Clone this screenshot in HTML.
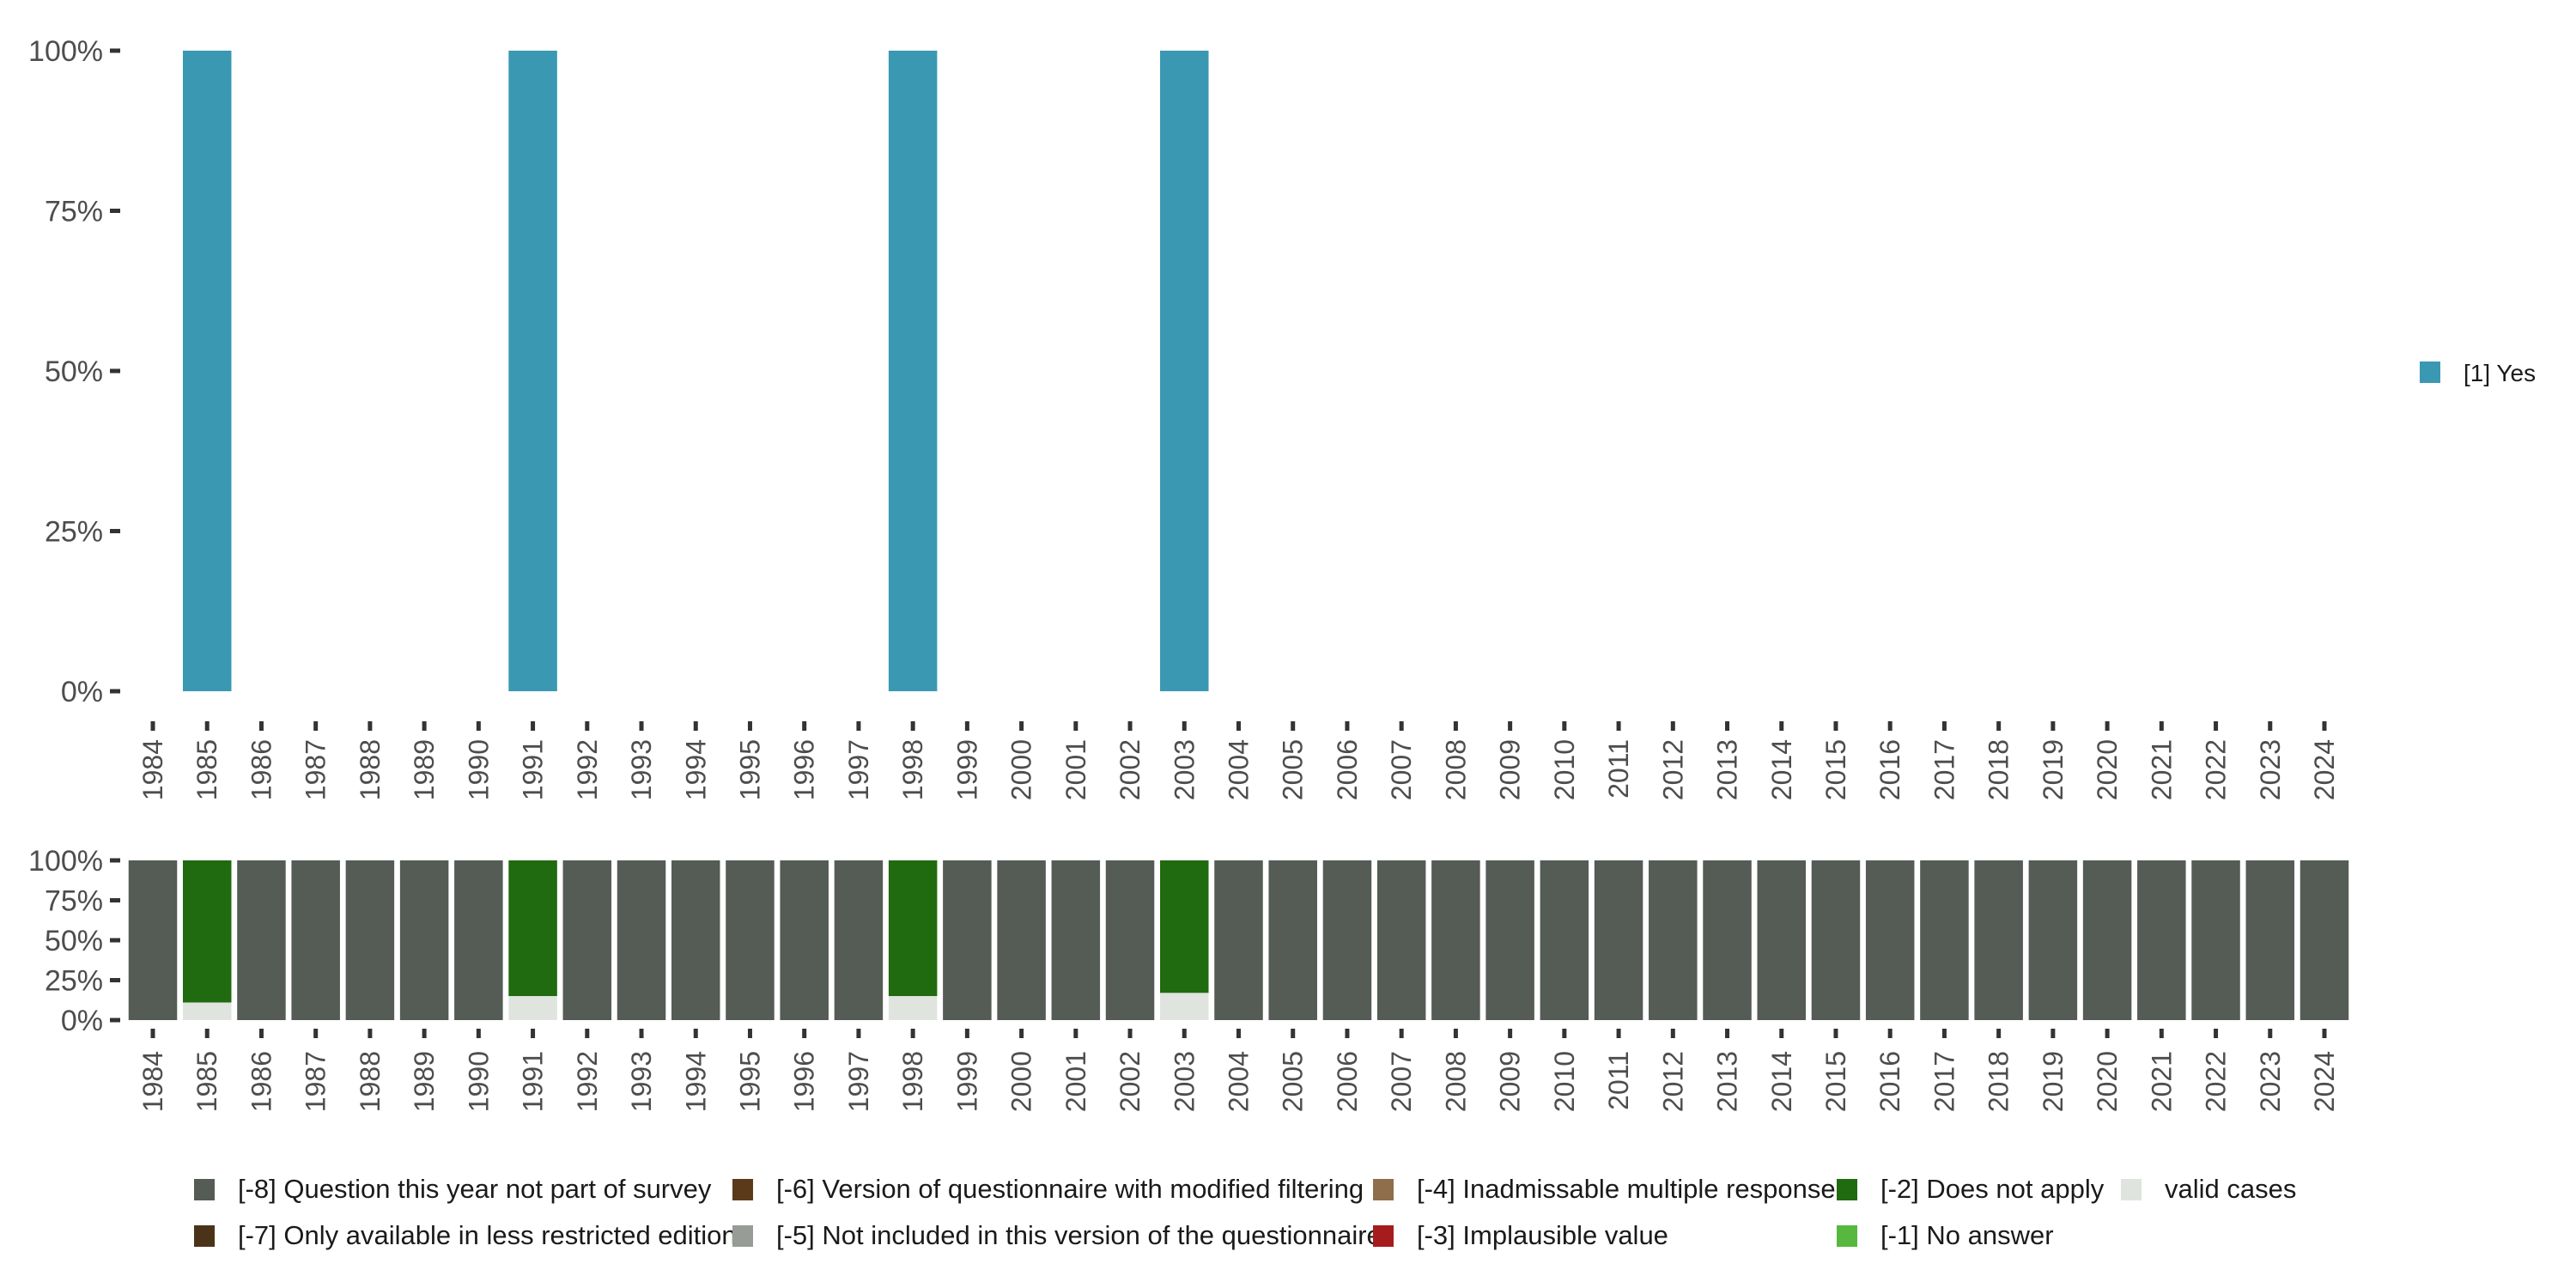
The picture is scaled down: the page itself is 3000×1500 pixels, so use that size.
<!DOCTYPE html>
<html><head><meta charset="utf-8">
<style>
html,body{margin:0;padding:0;background:#fff;}
svg{display:block;font-family:"Liberation Sans","DejaVu Sans",sans-serif;}
</style></head>
<body>
<svg id="chart" width="3000" height="1500" viewBox="0 0 3000 1500" xmlns="http://www.w3.org/2000/svg">
<g id="top-panel"></g>
<g id="bottom-panel"></g>
<g id="legend-right">
<rect x="2818" y="421" width="24" height="25" fill="#3a98b3"/>
<text x="2869" y="444" font-size="28" fill="#1a1a1a">[1] Yes</text>
</g>
<g id="legend-bottom"></g>
</svg>
<script>
const years = [];
for (let y = 1984; y <= 2024; y++) years.push(y);
const yesYears = [1985, 1991, 1998, 2003];
const yesValues = [1, 1, 1, 1];
const validYears = [1985, 1991, 1998, 2003];
const validShare = [0.11, 0.15, 0.15, 0.17];
const yTicks = [0, 0.25, 0.5, 0.75, 1];
const yTickLabels = ["0%", "25%", "50%", "75%", "100%"];
const legendLabels = ["[-8] Question this year not part of survey","[-7] Only available in less restricted edition","[-6] Version of questionnaire with modified filtering","[-5] Not included in this version of the questionnaire","[-4] Inadmissable multiple response","[-3] Implausible value","[-2] Does not apply","[-1] No answer","valid cases"];
const legendColors = ["#555b55","#4a3319","#5b3a1a","#979c97","#8f6e4c","#a61c1c","#206a0f","#56b83f","#dfe4df"];

const NS = "http://www.w3.org/2000/svg";
function mk(tag, attrs, parent){const e=document.createElementNS(NS,tag);for(const k in attrs)e.setAttribute(k,attrs[k]);parent.appendChild(e);return e;}
const x0 = 178, step = (2707-178)/40, bw = 56.5;
function xPos(year){return x0 + (year-1984)*step;}
function yTop(v){return 805 - v*(805-59);}
function yBot(v){return 1188 - v*(1188-1002);}

function axes(g, yf, tickY, labY){
  yTicks.forEach((t,i)=>{
    const tk=mk("rect",{x:128,y:yf(t)-2.5,width:12,height:5,fill:"#333"},g);
    
    
    const tx=mk("text",{x:120,y:yf(t)+12,"font-size":34,fill:"#4d4d4d","text-anchor":"end"},g);
    tx.textContent=yTickLabels[i];
    
    
  });
  years.forEach(yr=>{
    const x=xPos(yr);
    const tk=mk("rect",{x:x-2.5,y:tickY,width:5,height:11,fill:"#333"},g);
    
    
    const tx=mk("text",{transform:`translate(${x+11},${labY}) rotate(-90)`,"font-size":32,fill:"#4d4d4d","text-anchor":"end"},g);
    tx.textContent=String(yr);
    
    
  });
}

const topG = document.getElementById("top-panel");
yesYears.forEach((yr,i)=>{
  const r=mk("rect",{x:xPos(yr)-bw/2,y:yTop(yesValues[i]),width:bw,height:yTop(0)-yTop(yesValues[i]),fill:"#3a98b3"},topG);
  
  
});
axes(topG, yTop, 840, 861);

const botG = document.getElementById("bottom-panel");
years.forEach(yr=>{
  const idx = validYears.indexOf(yr);
  const x = xPos(yr)-bw/2;
  if (idx<0){
    const r=mk("rect",{x:x,y:yBot(1),width:bw,height:yBot(0)-yBot(1),fill:"#555b55"},botG);
    
    
  } else {
    const v=validShare[idx];
    const g1=mk("rect",{x:x,y:yBot(1),width:bw,height:yBot(v)-yBot(1),fill:"#206a0f"},botG);
    
    
    const g2=mk("rect",{x:x,y:yBot(v),width:bw,height:yBot(0)-yBot(v),fill:"#dfe4df"},botG);
    
    
  }
});
axes(botG, yBot, 1198, 1224);

const lg = document.getElementById("legend-bottom");
const colX = [226, 853, 1599, 2139, 2470];
const rowY = [1385, 1439];
legendLabels.forEach((lab,i)=>{
  const c=Math.floor(i/2), r=i%2;
  const sw=mk("rect",{x:colX[c],y:rowY[r]-12,width:24,height:25,fill:legendColors[i]},lg);
  
  
  const tx=mk("text",{x:colX[c]+51,y:rowY[r]+10,"font-size":31,fill:"#1a1a1a"},lg);
  tx.textContent=lab;
  
  
});
</script>
</body></html>
